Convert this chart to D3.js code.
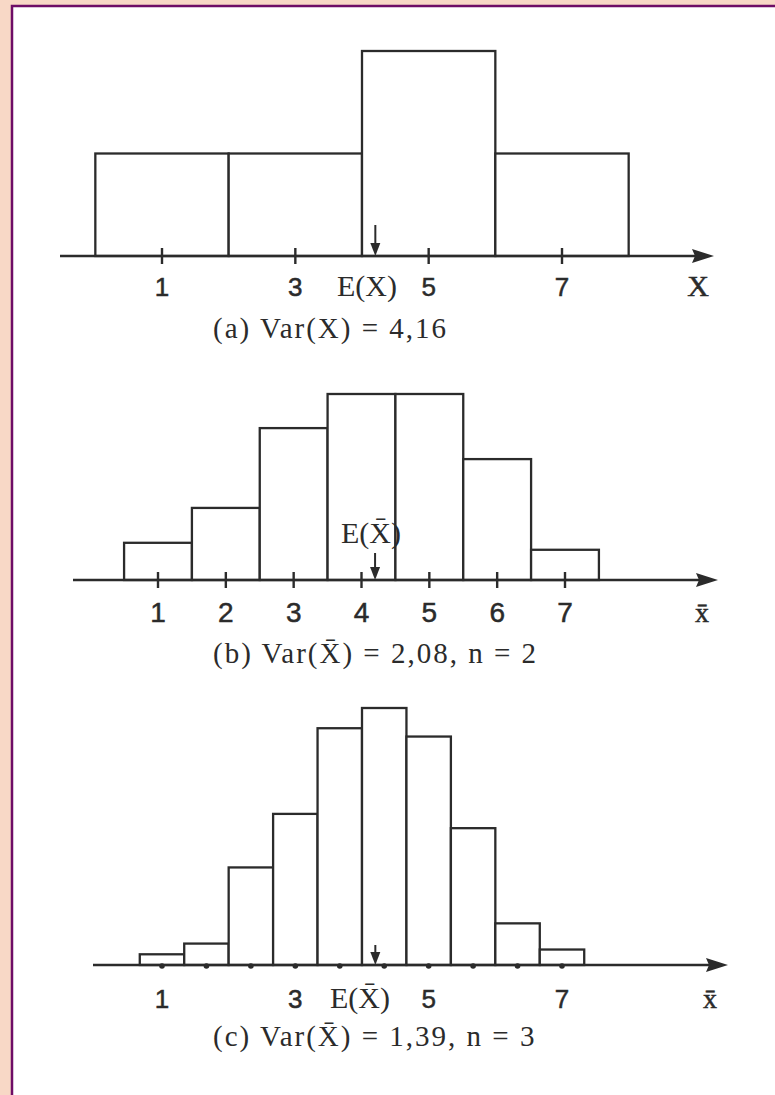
<!DOCTYPE html>
<html>
<head>
<meta charset="utf-8">
<script src="https://cdn.jsdelivr.net/npm/d3@7"></script>
<style>
body { margin: 0; background: #f8d8c6; }
svg { display: block; }
</style>
</head>
<body>
<svg id="chart"></svg>
<script>
// (a) population
const valuesA = [1, 3, 5, 7]
const probsA = [0.2, 0.2, 0.4, 0.2]
const binA = 2
const ticksA = [1, 3, 5, 7]

// (b) mean of n = 2
const valuesB = [1, 2, 3, 4, 5, 6, 7]
const probsB = [0.048, 0.093, 0.196, 0.24, 0.24, 0.156, 0.039]
const binB = 1
const ticksB = [1, 2, 3, 4, 5, 6, 7]

// (c) mean of n = 3
const valuesC = [1, 5/3, 7/3, 3, 11/3, 13/3, 5, 17/3, 19/3, 7]
const probsC = [0.009, 0.018, 0.082, 0.127, 0.199, 0.216, 0.192, 0.115, 0.035, 0.013]
const binC = 2/3
const ticksC = [1, 3, 5, 7]

const means = [4.2, 4.2, 4.2]
const captions = ['(a) Var(X) = 4,16', '(b) Var(X\u0304) = 2,08, n = 2', '(c) Var(X\u0304) = 1,39, n = 3']
const axisNames = ['X', 'x\u0304', 'x\u0304']
const meanNames = ['E(X)', 'E(X\u0304)', 'E(X\u0304)']

const W = 775, H = 1095
const ink = '#2b2b2b'
const serif = '"Liberation Serif", "DejaVu Serif", serif'
const sans = '"Liberation Sans", Arial, sans-serif'

const svg = d3.select('#chart').attr('width', W).attr('height', H)

// page frame
svg.append('rect').attr('x', 12).attr('y', 6).attr('width', W).attr('height', H).attr('fill', '#fff')
svg.append('path').attr('d', `M12,${H} V6 H${W}`).attr('fill', 'none').attr('stroke', '#6e0d66').attr('stroke-width', 2.5)

const panels = [
    {xs: valuesA, ps: probsA, bin: binA, ticks: ticksA, dots: false,
     axisY: 256, topY: 51, px1: 162, px7: 562, start: 60, end: 714,
     digit: 26, labelY: 296, meanLabel: {x: 367, y: 296}, arrowTop: 225,
     nameX: 698},
    {xs: valuesB, ps: probsB, bin: binB, ticks: ticksB, dots: false,
     axisY: 580, topY: 394, px1: 158, px7: 565, start: 73, end: 718,
     digit: 28, labelY: 622, meanLabel: {x: 371, y: 543}, arrowTop: 553,
     nameX: 702},
    {xs: valuesC, ps: probsC, bin: binC, ticks: ticksC, dots: true,
     axisY: 965, topY: 708, px1: 162, px7: 562, start: 93, end: 728,
     digit: 26, labelY: 1008, meanLabel: {x: 360, y: 1008}, arrowTop: 945,
     nameX: 710}
]

const captionY = [338, 663, 1046]

panels.forEach((p, k) => {
    const g = svg.append('g')
    const x = d3.scaleLinear().domain([1, 7]).range([p.px1, p.px7])
    const y = d3.scaleLinear().domain([0, d3.max(p.ps)]).range([p.axisY, p.topY])
    const bars = p.xs.map((v, i) => ({v, p: p.ps[i]}))

    g.selectAll('rect.bar')
        .data(bars)
        .enter()
        .append('rect')
        .attr('class', 'bar')
        .attr('x', d => x(d.v - p.bin / 2))
        .attr('y', d => y(d.p))
        .attr('width', d => x(d.v + p.bin / 2) - x(d.v - p.bin / 2))
        .attr('height', d => y(0) - y(d.p))
        .attr('fill', '#fff')
        .attr('stroke', ink)
        .attr('stroke-width', 2.3)

    // axis with arrow head
    g.append('line')
        .attr('x1', p.start).attr('x2', p.end - 12)
        .attr('y1', p.axisY).attr('y2', p.axisY)
        .attr('stroke', ink).attr('stroke-width', 2.5)
    g.append('path')
        .attr('d', `M${p.end},${p.axisY} L${p.end - 22},${p.axisY - 7} L${p.end - 19},${p.axisY} L${p.end - 22},${p.axisY + 7} Z`)
        .attr('fill', ink)

    if (p.dots) {
        g.selectAll('circle')
            .data(p.xs)
            .enter()
            .append('circle')
            .attr('cx', d => x(d))
            .attr('cy', p.axisY + 1)
            .attr('r', 2.8)
            .attr('fill', ink)
    } else {
        g.selectAll('line.tick')
            .data(p.ticks)
            .enter()
            .append('line')
            .attr('class', 'tick')
            .attr('x1', d => x(d)).attr('x2', d => x(d))
            .attr('y1', p.axisY - 8).attr('y2', p.axisY + 8)
            .attr('stroke', ink).attr('stroke-width', 2.4)
    }

    g.selectAll('text.num')
        .data(p.ticks)
        .enter()
        .append('text')
        .attr('class', 'num')
        .attr('x', d => x(d))
        .attr('y', p.labelY)
        .attr('text-anchor', 'middle')
        .attr('font-family', sans)
        .attr('font-size', p.digit)
        .attr('fill', ink)
        .attr('stroke', ink)
        .attr('stroke-width', 0.5)
        .text(d => d)

    // expectation marker
    const mx = x(means[k])
    g.append('line')
        .attr('x1', mx).attr('x2', mx)
        .attr('y1', p.arrowTop).attr('y2', p.axisY - 8)
        .attr('stroke', ink).attr('stroke-width', 2)
    g.append('path')
        .attr('d', `M${mx},${p.axisY} L${mx - 5},${p.axisY - 13} L${mx + 5},${p.axisY - 13} Z`)
        .attr('fill', ink)

    g.append('text')
        .attr('x', p.meanLabel.x)
        .attr('y', p.meanLabel.y)
        .attr('text-anchor', 'middle')
        .attr('font-family', serif)
        .attr('font-size', 30)
        .attr('fill', ink)
        .text(meanNames[k])

    g.append('text')
        .attr('x', p.nameX)
        .attr('y', p.labelY)
        .attr('text-anchor', 'middle')
        .attr('font-family', serif)
        .attr('font-size', k === 0 ? 30 : 28)
        .attr('fill', ink)
        .attr('stroke', ink)
        .attr('stroke-width', 0.5)
        .text(axisNames[k])

    g.append('text')
        .attr('x', 213)
        .attr('y', captionY[k])
        .attr('font-family', serif)
        .attr('font-size', 29)
        .attr('letter-spacing', 2)
        .attr('fill', ink)
        .text(captions[k])
})
</script>
</body>
</html>
